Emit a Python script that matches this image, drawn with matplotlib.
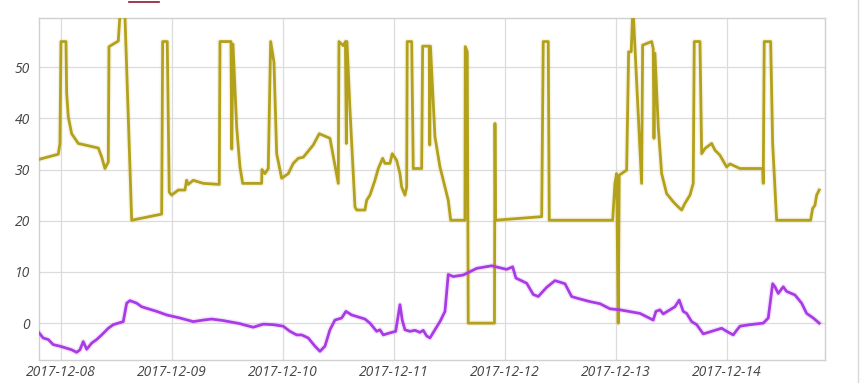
import matplotlib
matplotlib.use("Agg")
import matplotlib.pyplot as plt
import matplotlib.dates as mdates
import matplotlib.patheffects as pe
from matplotlib.lines import Line2D
import numpy as np
import pandas as pd

start = pd.Timestamp("2017-12-08 00:00")

# hours after 2017-12-08 00:00
olive_hours = [-4.69, -0.58, -0.22, 0.0, 1.08, 1.23, 1.58, 2.31, 3.74, 8.07, 8.79, 9.51, 10.23, 10.38,
               12.39, 13.47, 15.29, 21.77, 21.99, 22.98, 23.41, 23.93, 25.36, 26.81, 27.17, 27.52,
               28.6, 30.77, 34.23, 34.38, 36.76, 36.93, 37.19, 37.99, 38.7, 39.29, 43.39, 43.46,
               44.11, 44.82, 45.34, 46.05, 46.64, 47.72, 49.15, 50.23, 51.31, 52.39, 54.55, 55.85,
               58.16, 59.96, 60.11, 61.04, 61.5, 61.7, 61.84, 62.49, 63.57, 63.94, 65.73, 66.1,
               66.81, 67.89, 68.61, 69.56, 70.05, 71.13, 71.63, 72.58, 73.3, 73.66, 74.38, 74.75,
               74.87, 75.83, 76.17, 77.99, 78.2, 79.63, 79.74, 79.89, 80.86, 81.95, 83.74, 84.26,
               87.35, 87.42, 87.85, 88.06, 93.73, 93.84, 93.95, 103.94, 104.28, 105.36, 105.58,
               119.29, 119.78, 120.15, 120.49, 120.71, 122.31, 122.74, 123.3, 123.67, 125.55,
               125.77, 127.72, 128.06, 128.22, 128.43, 129.15, 129.88, 130.96, 132.39, 133.47,
               134.21, 134.92, 136.0, 136.71, 136.93, 138.16, 138.53, 139.24, 140.69, 141.4,
               142.48, 143.93, 144.65, 146.81, 151.72, 151.85, 152.06, 153.45, 153.88, 154.74,
               162.09, 162.53, 163.02, 163.39, 163.95]
olive_vals = [32.0, 33.0, 35.1, 55, 55, 44.9, 40.3, 37.0, 35.1, 34.2, 32.5, 30.2, 31.5, 54.0,
              55.1, 70, 20.1, 21.3, 55, 55, 25.6, 25.0, 26.0, 26.0, 27.9, 27.1,
              27.9, 27.3, 27.1, 55, 55, 34, 54.5, 38.3, 30.5, 27.3, 27.3, 30.0,
              29.2, 30.2, 55, 51.0, 33.1, 28.3, 29.2, 31.2, 32.2, 32.4, 34.8, 37.0,
              36.1, 27.3, 55, 54.2, 55, 35.1, 55, 41.6, 22.7, 22.1, 22.1, 24.0,
              25.0, 27.9, 30.2, 32.2, 31.2, 31.2, 33.1, 31.8, 29.2, 26.6, 25.0, 26.6,
              55, 55, 30.2, 30.2, 54.1, 54.1, 34.8, 54.1, 36.4, 30.5, 24.0, 20.1,
              20.1, 54.0, 53.0, 0, 0, 39.0, 20.1, 20.8, 55, 55, 20.1,
              20.1, 27.3, 29.2, 0, 28.9, 29.9, 53.0, 53.0, 62, 27.3,
              54.3, 55.0, 53.6, 36.1, 52.7, 38.3, 29.2, 25.3, 23.7, 22.7,
              22.1, 23.4, 25.0, 27.3, 55, 55, 33.1, 34.1, 35.1, 33.8,
              32.8, 30.5, 31.1, 30.2, 30.2, 27.3, 55, 55, 35.1, 20.1,
              20.1, 22.4, 23.0, 25.0, 26.0]

purple_hours = [-4.69, -3.83, -2.75, -1.66, -0.22, 1.23, 2.31, 3.39, 4.11, 4.82, 5.56, 6.64, 7.72,
                8.8, 10.23, 11.31, 13.47, 14.21, 14.92, 16.37, 17.45, 19.24, 20.69, 22.85, 25.73,
                28.6, 30.77, 32.58, 35.09, 38.7, 39.42, 41.58, 43.74, 45.9, 48.06, 49.51, 50.96,
                52.04, 53.47, 54.92, 56.0, 57.08, 58.16, 59.24, 60.69, 61.62, 62.85, 64.28, 65.73,
                66.81, 68.26, 68.97, 69.69, 71.13, 72.37, 72.71, 73.3, 73.79, 74.38, 75.46, 76.54,
                77.62, 78.33, 79.07, 79.78, 80.86, 81.95, 83.03, 83.74, 84.82, 86.98, 89.88, 93.12,
                96.37, 97.66, 98.38, 100.69, 102.12, 103.2, 105.02, 106.81, 108.97, 110.42, 111.5,
                114.38, 116.54, 118.7, 120.86, 125.19, 128.06, 128.65, 129.51, 130.22, 131.67,
                132.75, 133.68, 134.55, 135.28, 136.37, 137.45, 138.88, 140.69, 142.85, 143.93,
                145.36, 146.1, 146.81, 148.97, 151.85, 152.93, 153.88, 154.38, 155.09, 156.17,
                156.9, 158.7, 160.15, 161.23, 162.66, 163.95]
purple_vals = [-1.95, -2.9, -3.2, -4.2, -4.5, -4.9, -5.2, -5.7, -5.2, -3.6, -5.1, -3.9, -3.2,
               -2.3, -1.0, -0.3, 0.3, 3.9, 4.4, 3.9, 3.2, 2.7, 2.3, 1.6, 1.0,
               0.3, 0.6, 0.8, 0.5, -0.1, -0.3, -0.8, -0.2, -0.3, -0.6, -1.6, -2.3,
               -2.3, -2.9, -4.5, -5.5, -4.5, -1.3, 0.6, 1.0, 2.3, 1.6, 1.2, 0.8,
               0.0, -1.6, -1.3, -2.3, -1.9, -1.6, 0.3, 3.6, 0.6, -1.3, -1.6, -1.4,
               -1.8, -1.4, -2.5, -2.9, -1.3, 0.3, 2.3, 9.5, 9.1, 9.4, 10.7, 11.2,
               10.5, 11.0, 8.8, 7.8, 5.6, 5.2, 7.0, 8.3, 7.7, 5.2, 4.9,
               4.2, 3.8, 2.8, 2.6, 1.9, 0.6, 2.3, 2.6, 1.8, 2.6,
               3.2, 4.5, 2.3, 1.9, 0.3, -0.3, -2.1, -1.6, -1.0, -1.6,
               -2.3, -1.4, -0.6, -0.3, 0.0, 1.0, 7.7, 7.1, 5.8, 7.1,
               6.2, 5.5, 3.9, 1.9, 1.0, 0.0]

y_ticks = [0, 10, 20, 30, 40, 50]
day_ticks = ["2017-12-08", "2017-12-09", "2017-12-10", "2017-12-11",
             "2017-12-12", "2017-12-13", "2017-12-14"]

olive_t = start + pd.to_timedelta(olive_hours, unit="h")
purple_t = start + pd.to_timedelta(purple_hours, unit="h")

plt.rcParams['font.family'] = ['Open Sans', 'DejaVu Sans']

fig = plt.figure(figsize=(8.64, 3.83), dpi=100)
ax = fig.add_axes([39/864, 1 - 360/383, (825-39)/864, (360-18)/383])

glow = [pe.Stroke(linewidth=4.0, alpha=0.12), pe.Normal()]
ax.plot(olive_t, olive_vals, color='#b3a11c', linewidth=2.0, solid_joinstyle='round',
        path_effects=glow, zorder=3)
ax.plot(purple_t, purple_vals, color='#a93be6', linewidth=2.0, solid_joinstyle='round',
        path_effects=glow, zorder=4)

ax.set_ylim(-7.2, 59.6)
ax.set_xlim(start - pd.Timedelta(hours=4.75), start + pd.Timedelta(hours=165.2))
ax.set_yticks(y_ticks)
ax.set_xticks(pd.to_datetime(day_ticks))
ax.xaxis.set_major_formatter(mdates.DateFormatter('%Y-%m-%d'))

ax.grid(color='#dcdcdc', linewidth=0.9)
ax.set_axisbelow(True)
for s in ax.spines.values():
    s.set_color('#d0d0d0')
    s.set_linewidth(1.0)
ax.tick_params(length=0, labelsize=10, labelcolor='#444444')
ax.tick_params(axis='y', pad=6.5)
ax.tick_params(axis='x', pad=3.5)
for lbl in ax.get_xticklabels() + ax.get_yticklabels():
    lbl.set_fontstyle('italic')

# bits of the page cut off at the edges
fig.add_artist(Line2D([129/864, 159/864], [1 - 1.5/383, 1 - 1.5/383], color='#8b1a2b', linewidth=1.2))
fig.add_artist(Line2D([858/864, 858/864], [0, 1], color='#d8d8d8', linewidth=1.0))

fig.savefig("out.png", dpi=100)
